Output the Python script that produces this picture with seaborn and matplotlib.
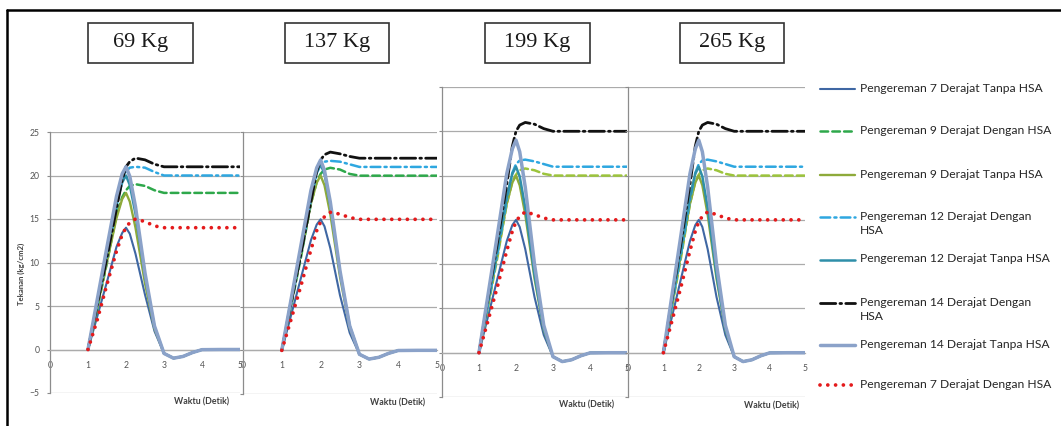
import pandas as pd
import seaborn as sns
import matplotlib.pyplot as plt
from matplotlib.lines import Line2D
from matplotlib.patches import Rectangle

sns.set_theme(style="white")
plt.rcParams['font.family'] = ['Lato', 'DejaVu Sans']
plt.rcParams['lines.scale_dashes'] = False

W, H = 1061, 426

# waktu (detik) - common time points of all series
waktu = [1.0, 1.25, 1.5, 1.75, 1.9, 2.0, 2.1, 2.25, 2.5, 2.75, 3.0, 3.25, 3.5, 3.75, 4.0, 4.5, 5.0]

seri = ["Pengereman 7 Derajat Tanpa HSA",
        "Pengereman 9 Derajat Dengan HSA",
        "Pengereman 9 Derajat Tanpa HSA",
        "Pengereman 12 Derajat Dengan\nHSA",
        "Pengereman 12 Derajat Tanpa HSA",
        "Pengereman 14 Derajat Dengan\nHSA",
        "Pengereman 14 Derajat Tanpa HSA",
        "Pengereman 7 Derajat Dengan HSA"]

beban = ["69 Kg", "137 Kg", "199 Kg", "265 Kg"]

# tekanan (kg/cm2), same order as seri
kg69 = [
    [0, 3.9, 7.8, 11.8, 13.4, 14.0, 13.3, 11.0, 6.3, 2.1, -0.45, -1.0, -0.8, -0.35, -0.02, 0, 0],
    [0, 4.8, 10.0, 15.5, 17.5, 18.3, 18.8, 19.0, 18.8, 18.3, 18, 18, 18, 18, 18, 18, 18],
    [0, 5.0, 10.1, 15.1, 17.3, 18.0, 17.0, 14.0, 7.6, 2.4, -0.45, -1.0, -0.8, -0.35, -0.02, 0, 0],
    [0, 5.3, 10.6, 16.5, 19.5, 20.5, 20.9, 21.0, 20.9, 20.4, 20, 20, 20, 20, 20, 20, 20],
    [0, 5.6, 11.2, 16.8, 19.2, 20.0, 18.9, 15.6, 8.4, 2.6, -0.45, -1.0, -0.8, -0.35, -0.02, 0, 0],
    [0, 5.3, 10.6, 16.2, 19.5, 21.0, 21.6, 22.0, 21.8, 21.3, 21, 21, 21, 21, 21, 21, 21],
    [0, 5.9, 11.8, 17.6, 20.2, 21.0, 19.9, 16.4, 8.8, 2.7, -0.45, -1.0, -0.8, -0.35, -0.02, 0, 0],
    [0, 3.5, 7.5, 11.3, 13.2, 14.0, 14.6, 15.0, 14.7, 14.2, 14, 14, 14, 14, 14, 14, 14],
]
kg137 = [
    [0, 4.2, 8.4, 12.6, 14.4, 15.0, 14.2, 11.7, 6.3, 2.0, -0.45, -1.0, -0.8, -0.35, -0.02, 0, 0],
    [0, 5.3, 10.8, 16.8, 19.3, 20.2, 20.7, 20.9, 20.7, 20.2, 20, 20, 20, 20, 20, 20, 20],
    [0, 5.6, 11.2, 16.8, 19.2, 20.0, 18.9, 15.6, 8.4, 2.6, -0.45, -1.0, -0.8, -0.35, -0.02, 0, 0],
    [0, 5.6, 11.2, 17.2, 20.3, 21.2, 21.6, 21.7, 21.6, 21.3, 21, 21, 21, 21, 21, 21, 21],
    [0, 6.0, 11.9, 17.9, 20.4, 21.3, 20.2, 16.6, 8.9, 2.8, -0.45, -1.0, -0.8, -0.35, -0.02, 0, 0],
    [0, 5.6, 11.2, 17.0, 20.5, 21.8, 22.4, 22.7, 22.5, 22.2, 22, 22, 22, 22, 22, 22, 22],
    [0, 6.1, 12.2, 18.3, 20.9, 21.8, 20.6, 17.0, 9.1, 2.8, -0.45, -1.0, -0.8, -0.35, -0.02, 0, 0],
    [0, 3.7, 7.5, 11.5, 13.7, 14.7, 15.3, 15.8, 15.6, 15.2, 15, 15, 15, 15, 15, 15, 15],
]
kg199 = [
    [0, 4.2, 8.4, 12.6, 14.4, 15.0, 14.2, 11.7, 6.3, 2.0, -0.45, -1.0, -0.8, -0.35, -0.02, 0, 0],
    [0, 5.3, 10.8, 16.8, 19.3, 20.1, 20.6, 20.8, 20.6, 20.2, 20, 20, 20, 20, 20, 20, 20],
    [0, 5.6, 11.2, 16.8, 19.2, 20.0, 18.9, 15.6, 8.4, 2.6, -0.45, -1.0, -0.8, -0.35, -0.02, 0, 0],
    [0, 5.6, 11.2, 17.2, 20.3, 21.3, 21.7, 21.8, 21.6, 21.3, 21, 21, 21, 21, 21, 21, 21],
    [0, 5.9, 11.8, 17.6, 20.2, 21.0, 19.9, 16.4, 8.8, 2.7, -0.45, -1.0, -0.8, -0.35, -0.02, 0, 0],
    [0, 6.3, 12.5, 19.0, 23.3, 25.0, 25.7, 26.0, 25.8, 25.3, 25, 25, 25, 25, 25, 25, 25],
    [0, 6.7, 13.4, 20.2, 23.0, 24.0, 22.7, 18.7, 10.0, 3.1, -0.45, -1.0, -0.8, -0.35, -0.02, 0, 0],
    [0, 3.7, 7.5, 11.5, 13.7, 14.8, 15.4, 15.9, 15.6, 15.2, 15, 15, 15, 15, 15, 15, 15],
]
# 265 Kg reads the same as 199 Kg
kg265 = [list(v) for v in kg199]

semua = [kg69, kg137, kg199, kg265]

# line styles per series
warna = ["#3F67A3", "#2EA84B", "#8EAA3A", "#2EA7E0", "#2F8FA9", "#111111", "#8BA2C9", "#E41A1C"]
tebal = [1.5, 1.8, 1.7, 1.8, 1.8, 2.0, 2.5, 2.7]
garis = ["-", (0, (5.5, 3)), "-", (0, (7, 3, 1.5, 3)), "-", (0, (11, 3, 1.2, 3)), "-", (0, (0.01, 5.6))]
hijau = ["#2EA84B", "#2EA84B", "#9CC43C", "#9CC43C"]

# panel boxes in pixels: left, right, top, bottom, ymax
panel = [(50, 240, 132, 393, 25), (243, 437, 132, 394, 25),
         (442, 627, 87, 397, 30), (628, 805, 87, 397, 30)]
kotak = [(88, 193), (285, 389), (485, 590), (680, 784)]
waktu_pos = [(202, 402), (398, 403), (587, 405), (772, 406)]

fig = plt.figure(figsize=(W / 100, H / 100), dpi=100)


def px_axes(l, r, t, b):
    return fig.add_axes([l / W, 1 - b / H, (r - l) / W, (b - t) / H])


for i, (l, r, t, b, ymax) in enumerate(panel):
    ax = px_axes(l, r, t, b)
    ax.set_facecolor("none")
    for j in range(len(seri)):
        c = hijau[i] if j == 1 else warna[j]
        sns.lineplot(x=waktu, y=semua[i][j], ax=ax, color=c, linewidth=tebal[j],
                     linestyle=garis[j], dash_capstyle="round", solid_joinstyle="round",
                     legend=False, zorder=3 + j)
    ax.set_xlim(0, 5)
    ax.set_ylim(-5, ymax)
    ax.set_xticks(range(6))
    ax.set_yticks(range(-5, ymax + 1, 5))
    ax.grid(axis="y", color="#ABABAB", linewidth=0.9)
    ax.grid(axis="x", visible=False)
    for s in ["top", "right"]:
        ax.spines[s].set_visible(False)
    ax.spines["left"].set_color("#8C8C8C")
    ax.spines["left"].set_linewidth(0.9)
    ax.spines["bottom"].set_position(("data", 0))
    ax.spines["bottom"].set_color("#ABABAB")
    ax.spines["bottom"].set_linewidth(0.9)
    ax.tick_params(axis="x", length=0, pad=8, labelsize=6.2, labelcolor="#555555")
    ax.tick_params(axis="y", direction="out", length=2.5, width=0.8, color="#8C8C8C",
                   pad=5, labelsize=6.2, labelcolor="#555555", left=True)
    if i > 0:
        ax.set_yticklabels([])
    ax.set_xlabel("")
    ax.set_ylabel("")
    fig.text(waktu_pos[i][0] / W, 1 - waktu_pos[i][1] / H, "Waktu (Detik)",
             ha="center", va="center", fontsize=6.3, fontweight="bold", color="#404040")

    # weight label box
    x0, x1 = kotak[i]
    fig.add_artist(Rectangle((x0 / W, 1 - 63 / H), (x1 - x0) / W, 40 / H,
                             transform=fig.transFigure, fill=False,
                             edgecolor="#333333", linewidth=1.2))
    fig.text((x0 + x1) / 2 / W, 1 - 43 / H, beban[i], ha="center", va="center",
             fontsize=16, family="Liberation Serif", color="#1A1A1A")

fig.text(21 / W, 1 - 274 / H, "Tekanan (kg/cm2)", rotation=90, ha="center", va="center",
         fontsize=5.6, fontweight="bold", color="#404040")

# legend drawn in pixel coordinates
lg = px_axes(810, 1061, 60, 410)
lg.set_xlim(810, 1061)
lg.set_ylim(410, 60)
lg.axis("off")
leg_y = [89, 131, 175, 217, 260, 303, 345, 385]
for j, nama in enumerate(seri):
    lg.plot([820, 855], [leg_y[j], leg_y[j]], color=warna[j], linewidth=tebal[j],
            linestyle=garis[j], dash_capstyle="round")
    lg.text(860, leg_y[j] - 6.5, nama, ha="left", va="top", fontsize=8.7,
            color="#262626", linespacing=1.4)

# outer frame
fig.add_artist(Line2D([6.5 / W, 6.5 / W], [0, 1 - 10 / H], transform=fig.transFigure,
                      color="black", linewidth=1.8))
fig.add_artist(Line2D([6.5 / W, 1], [1 - 10 / H, 1 - 10 / H], transform=fig.transFigure,
                      color="black", linewidth=1.8))

fig.savefig("out.png", dpi=100)
